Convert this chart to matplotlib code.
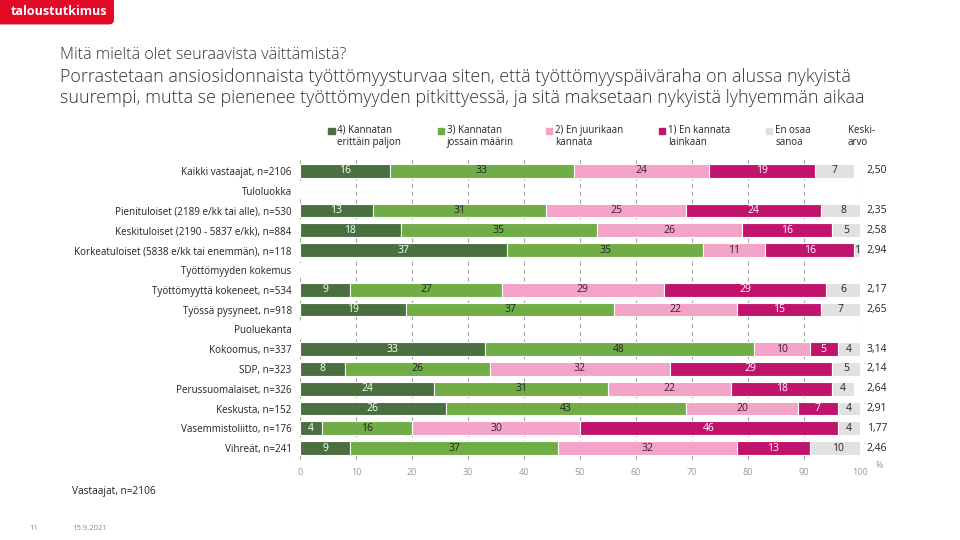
import numpy as np
import matplotlib
matplotlib.use("Agg")
import matplotlib.pyplot as plt
from matplotlib.patches import FancyBboxPatch

plt.rcParams['font.family'] = ['Open Sans', 'DejaVu Sans']

# rivit ylhäältä alas; otsikkoriveillä ei ole palkkeja
labels = ["Kaikki vastaajat, n=2106",
          "Tuloluokka",
          "Pienituloiset (2189 e/kk tai alle), n=530",
          "Keskituloiset (2190 - 5837 e/kk), n=884",
          "Korkeatuloiset (5838 e/kk tai enemmän), n=118",
          "Työttömyyden kokemus",
          "Työttömyyttä kokeneet, n=534",
          "Työssä pysyneet, n=918",
          "Puoluekanta",
          "Kokoomus, n=337",
          "SDP, n=323",
          "Perussuomalaiset, n=326",
          "Keskusta, n=152",
          "Vasemmistoliitto, n=176",
          "Vihreät, n=241"]
nan = np.nan
v4 = [16, nan, 13, 18, 37, nan, 9, 19, nan, 33, 8, 24, 26, 4, 9]
v3 = [33, nan, 31, 35, 35, nan, 27, 37, nan, 48, 26, 31, 43, 16, 37]
v2 = [24, nan, 25, 26, 11, nan, 29, 22, nan, 10, 32, 22, 20, 30, 32]
v1 = [19, nan, 24, 16, 16, nan, 29, 15, nan, 5, 29, 18, 7, 46, 13]
veos = [7, nan, 8, 5, 1, nan, 6, 7, nan, 4, 5, 4, 4, 4, 10]
keskiarvo = ["2,50", "", "2,35", "2,58", "2,94", "", "2,17", "2,65", "",
             "3,14", "2,14", "2,64", "2,91", "1,77", "2,46"]

series = [v4, v3, v2, v1, veos]
names = ["4) Kannatan\nerittäin paljon", "3) Kannatan\njossain määrin",
         "2) En juurikaan\nkannata", "1) En kannata\nlainkaan", "En osaa\nsanoa"]
colors = ["#4a7040", "#70ad47", "#f4a3c8", "#c0136c", "#e1e1e1"]
txtcol = ["white", "#222222", "#3a1a30", "white", "#222222"]

fig = plt.figure(figsize=(9.6, 5.4), dpi=100)
ax = fig.add_axes([0.3125, 0.1481, 0.5833, 0.5574])

y = np.arange(len(labels))
left = np.zeros(len(labels))
for vals, c, tc in zip(series, colors, txtcol):
    vals = np.array(vals, dtype=float)
    ax.barh(y, np.nan_to_num(vals), left=left, height=0.7,
            color=c, edgecolor="white", linewidth=0.8, zorder=2)
    for i, v in enumerate(vals):
        if not np.isnan(v):
            ax.text(left[i] + v / 2, y[i], f"{int(v)}", ha="center", va="center",
                    fontsize=7.5, color=tc, zorder=3)
    left = left + np.nan_to_num(vals)

for i, m in enumerate(keskiarvo):
    if m:
        ax.text(101.2, y[i], m, ha="left", va="center", fontsize=7.5,
                color="#222222")

ax.set_xlim(0, 100)
ax.set_ylim(len(labels) - 0.4, -0.6)
ax.set_xticks(range(0, 101, 10))
ax.tick_params(axis="x", length=0, labelsize=6.5, labelcolor="#999999", pad=6)
ax.set_yticks(y)
ax.set_yticklabels(labels, fontsize=7.1, color="#222222")
ax.tick_params(axis="y", length=0, pad=6)
for s in ax.spines.values():
    s.set_visible(False)
ax.grid(axis="x", linestyle=(0, (4, 3)), color="#a6a6a6", linewidth=0.8, zorder=1)
ax.set_axisbelow(True)
fig.text(0.912, 0.133, "%", fontsize=6.5, color="#999999")

# selite
legx = [0.342, 0.456, 0.569, 0.686, 0.798]
for x0, n, c in zip(legx, names, colors):
    fig.patches.append(plt.Rectangle((x0, 0.751), 0.0065, 0.0115, color=c,
                                     transform=fig.transFigure))
    fig.text(x0 + 0.0095, 0.769, n, fontsize=7, va="top", color="#222222",
             linespacing=1.1)
fig.text(0.883, 0.769, "Keski-\narvo", fontsize=7, va="top", color="#222222",
         linespacing=1.1)

# otsikot
fig.text(0.0625, 0.898, "Mitä mieltä olet seuraavista väittämistä?",
         fontsize=11.6, va="center", color="#333333", weight="light")
fig.text(0.0625, 0.838,
         "Porrastetaan ansiosidonnaista työttömyysturvaa siten, että työttömyyspäiväraha on alussa nykyistä\n"
         "suurempi, mutta se pienenee työttömyyden pitkittyessä, ja sitä maksetaan nykyistä lyhyemmän aikaa",
         fontsize=12.9, va="center", color="#333333", linespacing=1.27,
         weight="light")

# logo
fig.patches.append(FancyBboxPatch((-0.01, 0.956), 0.128, 0.062,
                                  boxstyle="round,pad=0,rounding_size=0.006",
                                  color="#e30a28", transform=fig.transFigure))
fig.text(0.011, 0.978, "taloustutkimus", fontsize=9, color="white",
         weight="bold", va="center")

fig.text(0.075, 0.089, "Vastaajat, n=2106", fontsize=7.3, color="#222222", va="center")
fig.text(0.031, 0.022, "11", fontsize=5.5, color="#888888", va="center")
fig.text(0.075, 0.022, "15.9.2021", fontsize=5.5, color="#888888", va="center")

fig.savefig("out.png", dpi=100)
